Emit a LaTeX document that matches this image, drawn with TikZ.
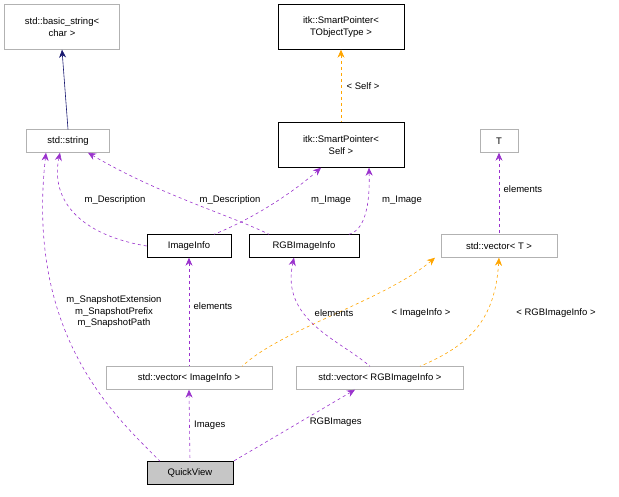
\documentclass[tikz,border=0pt]{standalone}
\usepackage{fontspec}
\setmainfont{Liberation Sans}
\usetikzlibrary{arrows.meta}
\definecolor{usecol}{HTML}{9A32CD}
\definecolor{tplcol}{HTML}{FFA500}
\definecolor{inhcol}{HTML}{191970}
\tikzset{
	box/.style={draw=gray!60,fill=white,inner sep=2pt,align=center,font=\fontsize{9.5}{11.5}\selectfont},
	cls/.style={box,draw=black},
	use/.style={usecol,dashed,semithick,{Stealth[length=8pt,width=7pt]}-},
	tpl/.style={tplcol,dashed,semithick,{Stealth[length=8pt,width=7pt]}-},
	lbl/.style={font=\fontsize{9.5}{11.5}\selectfont,black,align=center}
}
\begin{document}
\begin{tikzpicture}[x=1pt,y=-1pt]
	\useasboundingbox (0,0) rectangle (619,496);
	\node[box,minimum width=115pt,minimum height=45pt] (bstr) at (62,27) {std::basic\_string<\\char >};
	\node[box,minimum width=83pt,minimum height=23pt] (str) at (68,141) {std::string};
	\node[cls,minimum width=126pt,minimum height=45pt] (spT) at (341,27) {itk::SmartPointer<\\TObjectType >};
	\node[cls,minimum width=126pt,minimum height=45pt] (spS) at (341,145) {itk::SmartPointer<\\Self >};
	\node[box,minimum width=38pt,minimum height=23pt] (T) at (499,141) {T};
	\node[cls,minimum width=84pt,minimum height=23pt] (ii) at (189,246) {ImageInfo};
	\node[cls,minimum width=110pt,minimum height=23pt] (rgb) at (304,246) {RGBImageInfo};
	\node[box,minimum width=116pt,minimum height=23pt] (vT) at (499,246) {std::vector< T >};
	\node[box,minimum width=166pt,minimum height=23pt] (vii) at (189,378) {std::vector< ImageInfo >};
	\node[box,minimum width=167pt,minimum height=23pt] (vrgb) at (380,378) {std::vector< RGBImageInfo >};
	\node[box,draw=black,fill=gray!45,minimum width=86pt,minimum height=23pt] (qv) at (190,473) {QuickView};
	% inheritance
	\draw[inhcol,semithick,{Stealth[length=8pt,width=7pt]}-] (bstr.south) -- (str.north);
	% template instances
	\draw[tpl] (spT.south) -- node[lbl,right=2pt]{< Self >} (spS.north);
	\draw[tpl] ([xshift=-64pt]vT.south) .. controls (385,300) and (280,330) .. ([xshift=-30pt]vii.north east);
	\draw[tpl] (vT.south) .. controls (495,320) and (470,345) .. ([xshift=40pt]vrgb.north);
	\node[lbl] at (421,313) {< ImageInfo >};
	\node[lbl] at (556,313) {< RGBImageInfo >};
	% usage
	\draw[use] (T.south) -- node[lbl,right=1pt,pos=.45]{elements} (vT.north);
	\draw[use] ([xshift=-8pt]str.south) .. controls (50,200) and (80,235) .. (ii.west);
	\draw[use] ([xshift=20pt]str.south) .. controls (160,195) and (230,215) .. ([xshift=-35pt]rgb.north);
	\draw[use] ([xshift=-20pt]spS.south) .. controls (290,195) and (250,220) .. ([xshift=25pt]ii.north);
	\draw[use] ([xshift=28pt]spS.south) .. controls (370,205) and (365,230) .. ([xshift=45pt]rgb.north);
	\node[lbl] at (115,200) {m\_Description};
	\node[lbl] at (230,200) {m\_Description};
	\node[lbl] at (331,200) {m\_Image};
	\node[lbl] at (402,200) {m\_Image};
	\draw[use] (ii.south) -- node[lbl,right=1pt,pos=.45]{elements} (vii.north);
	\draw[use] ([xshift=-10pt]rgb.south) .. controls (280,320) and (340,340) .. ([xshift=-10pt]vrgb.north);
	\node[lbl] at (334,313) {elements};
	\draw[use] ([xshift=-22pt]str.south) .. controls (25,340) and (120,420) .. ([xshift=-30pt]qv.north);
	\node[lbl] at (114,312) {m\_SnapshotExtension\\m\_SnapshotPrefix\\m\_SnapshotPath};
	\draw[use] (vii.south) -- node[lbl,right=1pt]{Images} (qv.north);
	\draw[use] ([xshift=-25pt]vrgb.south) -- node[lbl,pos=.45,right=6pt]{RGBImages} (qv.north east);
\end{tikzpicture}
\end{document}
